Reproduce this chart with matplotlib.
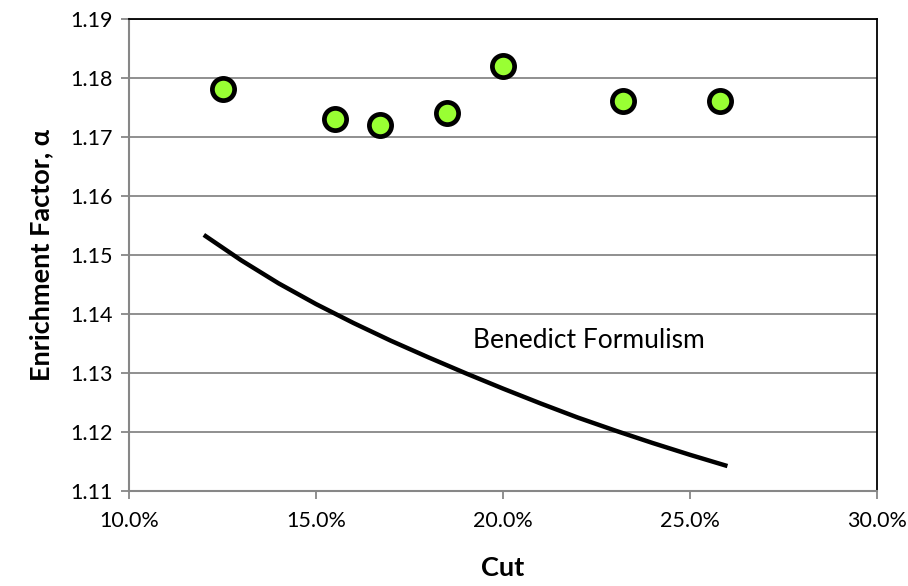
import matplotlib
matplotlib.use("Agg")
import matplotlib.pyplot as plt
from matplotlib.ticker import FuncFormatter

plt.rcParams['font.family'] = ['Lato', 'DejaVu Sans']

# Measured data (cut in %, enrichment factor)
cut_meas = [12.5, 15.5, 16.7, 18.5, 20.0, 23.2, 25.8]
alpha_meas = [1.178, 1.173, 1.172, 1.174, 1.182, 1.176, 1.176]

# Benedict formulism curve
cut_theory = [12, 13, 14, 15, 16, 17, 18, 19, 20, 21, 22, 23, 24, 25, 26]
alpha_theory = [1.1534, 1.1491, 1.1452, 1.1417, 1.1385, 1.1355, 1.1327, 1.1300,
                1.1274, 1.1249, 1.1225, 1.1203, 1.1182, 1.1162, 1.1143]

x_ticks = [10, 15, 20, 25, 30]
y_ticks = [1.11, 1.12, 1.13, 1.14, 1.15, 1.16, 1.17, 1.18, 1.19]

fig = plt.figure(figsize=(9.08, 5.86), dpi=100)
ax = fig.add_axes([0.1421, 0.1613, 0.8238, 0.8071])

grid_c = '#878787'
ax.set_xlim(10, 30)
ax.set_ylim(1.11, 1.19)
ax.set_xticks(x_ticks)
ax.set_yticks(y_ticks)
ax.xaxis.set_major_formatter(FuncFormatter(lambda v, p: f"{v:.1f}%"))
ax.yaxis.set_major_formatter(FuncFormatter(lambda v, p: f"{v:.2f}"))
ax.grid(axis='y', color=grid_c, lw=1.3)
ax.set_axisbelow(True)

for s in ['left', 'bottom']:
    ax.spines[s].set_color(grid_c)
    ax.spines[s].set_linewidth(1.5)
for s in ['top', 'right']:
    ax.spines[s].set_color('black')
    ax.spines[s].set_linewidth(1.3)

ax.tick_params(axis='both', colors=grid_c, labelcolor='black', labelsize=15.5,
               length=6, width=1.3, direction='out')
ax.tick_params(axis='x', pad=8)
ax.tick_params(axis='y', pad=6)

ax.plot(cut_theory, alpha_theory, color='black', lw=3.2, solid_capstyle='butt',
        solid_joinstyle='round', zorder=3)
ax.plot(cut_meas, alpha_meas, linestyle='none', marker='o', markersize=16,
        markerfacecolor='#99FF33', markeredgecolor='black', markeredgewidth=3.4, zorder=4)

ax.text(22.3, 1.1355, 'Benedict Formulism', fontsize=19, ha='center', va='center')

ax.set_xlabel('Cut', fontsize=19.5, fontweight='bold', labelpad=18)
ax.set_ylabel('Enrichment Factor, α', fontsize=19.5, fontweight='bold', labelpad=12)

fig.savefig('out.png', dpi=100)
